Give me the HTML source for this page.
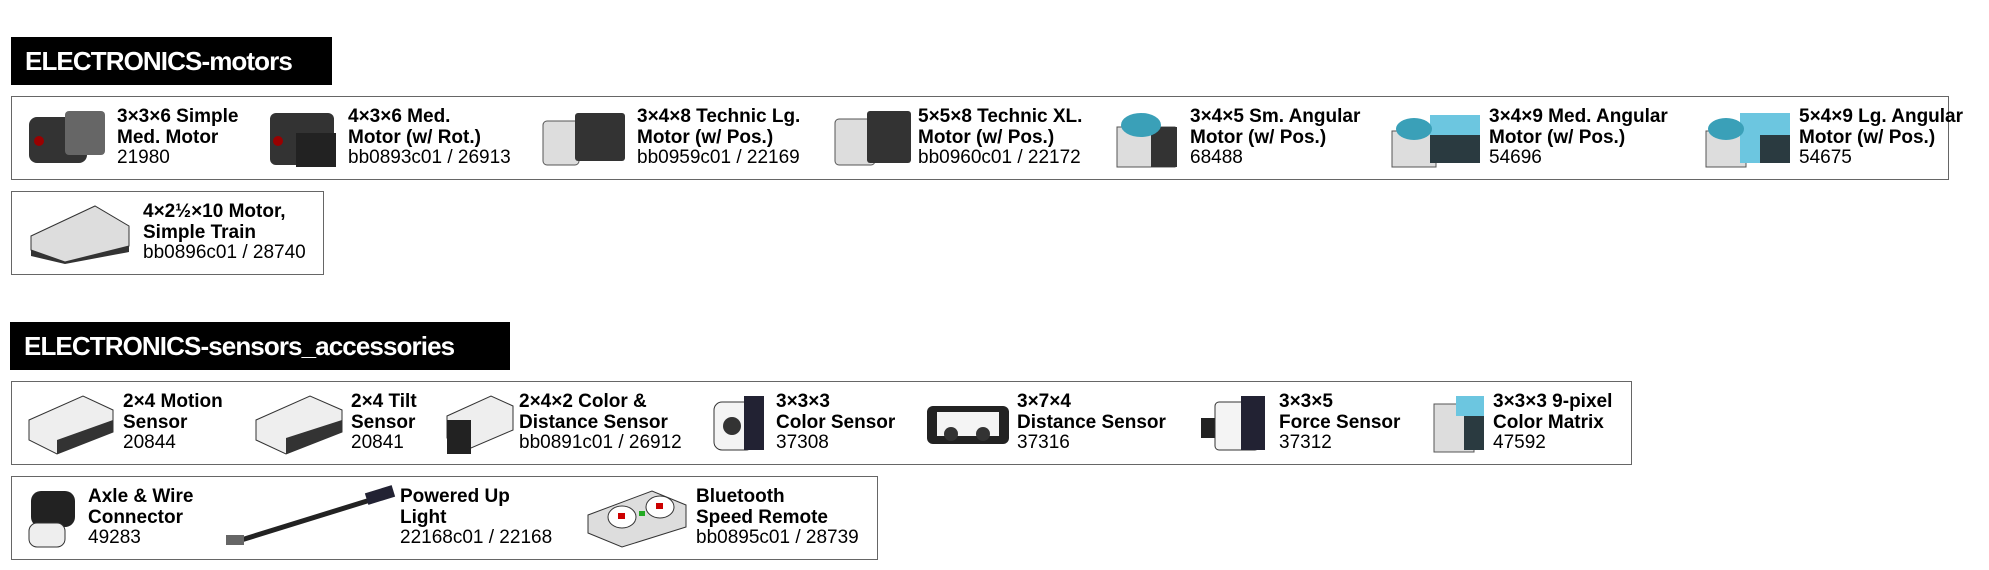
<!DOCTYPE html>
<html><head><meta charset="utf-8"><style>
body{margin:0;width:1989px;height:570px;background:#fff;position:relative;overflow:hidden;font-family:"Liberation Sans",Arial,sans-serif}
.h{position:absolute;background:#000;color:#fff;font-weight:bold;font-size:26px;line-height:48px;padding-left:14px;box-sizing:border-box;letter-spacing:-0.9px}
.box{position:absolute;border:1.5px solid #666;box-sizing:border-box;background:#fff}
.t{position:absolute;font-size:19px;line-height:20.5px;color:#000;white-space:nowrap}
.t b{display:block}
.i{position:absolute}
</style></head><body>
<div class="h" style="left:11px;top:37px;width:321px;height:48px">ELECTRONICS-motors</div>
<div class="box" style="left:11px;top:96px;width:1938px;height:84px"></div>
<div class="box" style="left:11px;top:191px;width:313px;height:84px"></div>

<div class="h" style="left:10px;top:322px;width:500px;height:48px">ELECTRONICS-sensors_accessories</div>
<div class="box" style="left:11px;top:381px;width:1621px;height:84px"></div>
<div class="box" style="left:11px;top:476px;width:867px;height:84px"></div>

<!-- motors row1 -->
<svg class="i" style="left:25px;top:105px" width="88" height="66"><rect x="4" y="12" width="58" height="46" rx="8" fill="#333"/><rect x="40" y="6" width="40" height="44" rx="4" fill="#666"/><circle cx="14" cy="36" r="5" fill="#900"/></svg>
<div class="t" style="left:117px;top:107px"><b>3×3×6 Simple</b><b>Med. Motor</b>21980</div>
<svg class="i" style="left:266px;top:105px" width="76" height="66"><rect x="4" y="8" width="64" height="52" rx="6" fill="#333"/><rect x="30" y="28" width="40" height="34" fill="#222"/><circle cx="12" cy="36" r="5" fill="#900"/></svg>
<div class="t" style="left:348px;top:107px"><b>4×3×6 Med.</b><b>Motor (w/ Rot.)</b>bb0893c01 / 26913</div>
<svg class="i" style="left:539px;top:105px" width="94" height="66"><rect x="4" y="16" width="36" height="44" rx="4" fill="#ddd" stroke="#555"/><rect x="36" y="8" width="50" height="48" rx="3" fill="#333"/></svg>
<div class="t" style="left:637px;top:107px"><b>3×4×8 Technic Lg.</b><b>Motor (w/ Pos.)</b>bb0959c01 / 22169</div>
<svg class="i" style="left:831px;top:105px" width="84" height="66"><rect x="4" y="14" width="40" height="46" rx="4" fill="#ddd" stroke="#555"/><rect x="36" y="6" width="44" height="52" rx="3" fill="#333"/></svg>
<div class="t" style="left:918px;top:107px"><b>5×5×8 Technic XL.</b><b>Motor (w/ Pos.)</b>bb0960c01 / 22172</div>
<svg class="i" style="left:1111px;top:105px" width="76" height="66"><rect x="6" y="22" width="58" height="40" fill="#ddd" stroke="#555"/><rect x="40" y="22" width="26" height="40" fill="#333"/><ellipse cx="30" cy="20" rx="20" ry="12" fill="#3aa0b8"/></svg>
<div class="t" style="left:1190px;top:107px"><b>3×4×5 Sm. Angular</b><b>Motor (w/ Pos.)</b>68488</div>
<svg class="i" style="left:1386px;top:105px" width="100" height="66"><rect x="6" y="26" width="44" height="36" fill="#ddd" stroke="#555"/><rect x="44" y="10" width="50" height="48" fill="#2a3a40"/><rect x="44" y="10" width="50" height="20" fill="#6cc6e0"/><ellipse cx="28" cy="24" rx="18" ry="11" fill="#3aa0b8"/></svg>
<div class="t" style="left:1489px;top:107px"><b>3×4×9 Med. Angular</b><b>Motor (w/ Pos.)</b>54696</div>
<svg class="i" style="left:1700px;top:105px" width="96" height="66"><rect x="6" y="26" width="40" height="36" fill="#ddd" stroke="#555"/><rect x="40" y="8" width="50" height="50" fill="#6cc6e0"/><rect x="60" y="30" width="30" height="28" fill="#2a3a40"/><ellipse cx="26" cy="24" rx="18" ry="11" fill="#3aa0b8"/></svg>
<div class="t" style="left:1799px;top:107px"><b>5×4×9 Lg. Angular</b><b>Motor (w/ Pos.)</b>54675</div>
<!-- motors row2 -->
<svg class="i" style="left:25px;top:200px" width="112" height="66"><path d="M6 36 L70 6 L104 26 L104 46 L40 62 L6 50Z" fill="#ddd" stroke="#333"/><path d="M6 50 L40 62 L104 46 L104 52 L40 64 L6 56Z" fill="#333"/></svg>
<div class="t" style="left:143px;top:202px"><b>4×2½×10 Motor,</b><b>Simple Train</b>bb0896c01 / 28740</div>

<!-- sensors row1 -->
<svg class="i" style="left:23px;top:390px" width="96" height="66"><path d="M6 30 L60 6 L90 20 L90 42 L34 64 L6 50Z" fill="#eee" stroke="#333"/><path d="M34 50 L90 30 L90 42 L34 64Z" fill="#333"/></svg>
<div class="t" style="left:123px;top:392px"><b>2×4 Motion</b><b>Sensor</b>20844</div>
<svg class="i" style="left:250px;top:390px" width="96" height="66"><path d="M6 30 L60 6 L92 20 L92 42 L36 64 L6 50Z" fill="#eee" stroke="#333"/><path d="M36 48 L92 30 L92 42 L36 64Z" fill="#333"/></svg>
<div class="t" style="left:351px;top:392px"><b>2×4 Tilt</b><b>Sensor</b>20841</div>
<svg class="i" style="left:441px;top:390px" width="76" height="66"><path d="M6 26 L50 6 L72 16 L72 40 L30 58 L6 48Z" fill="#eee" stroke="#333"/><rect x="6" y="30" width="24" height="34" fill="#222"/></svg>
<div class="t" style="left:519px;top:392px"><b>2×4×2 Color &amp;</b><b>Distance Sensor</b>bb0891c01 / 26912</div>
<svg class="i" style="left:710px;top:390px" width="60" height="66"><rect x="4" y="12" width="40" height="48" rx="8" fill="#f4f4f4" stroke="#333"/><rect x="34" y="6" width="20" height="54" fill="#223"/><circle cx="22" cy="36" r="9" fill="#333"/></svg>
<div class="t" style="left:776px;top:392px"><b>3×3×3</b><b>Color Sensor</b>37308</div>
<svg class="i" style="left:923px;top:390px" width="90" height="66"><rect x="4" y="16" width="82" height="38" rx="6" fill="#222"/><rect x="14" y="22" width="62" height="24" fill="#f4f4f4"/><circle cx="28" cy="44" r="7" fill="#333"/><circle cx="60" cy="44" r="7" fill="#333"/></svg>
<div class="t" style="left:1017px;top:392px"><b>3×7×4</b><b>Distance Sensor</b>37316</div>
<svg class="i" style="left:1195px;top:390px" width="80" height="66"><rect x="6" y="28" width="18" height="20" fill="#222"/><rect x="20" y="12" width="44" height="48" rx="4" fill="#f4f4f4" stroke="#333"/><rect x="46" y="6" width="24" height="54" fill="#223"/></svg>
<div class="t" style="left:1279px;top:392px"><b>3×3×5</b><b>Force Sensor</b>37312</div>
<svg class="i" style="left:1430px;top:390px" width="60" height="66"><rect x="4" y="14" width="40" height="48" fill="#ddd" stroke="#555"/><rect x="34" y="6" width="20" height="54" fill="#2a3a40"/><rect x="26" y="6" width="28" height="20" fill="#6cc6e0"/></svg>
<div class="t" style="left:1493px;top:392px"><b>3×3×3 9-pixel</b><b>Color Matrix</b>47592</div>
<!-- sensors row2 -->
<svg class="i" style="left:23px;top:485px" width="62" height="66"><rect x="8" y="6" width="44" height="36" rx="10" fill="#222"/><rect x="6" y="38" width="36" height="24" rx="8" fill="#eee" stroke="#333"/></svg>
<div class="t" style="left:88px;top:487px"><b>Axle &amp; Wire</b><b>Connector</b>49283</div>
<svg class="i" style="left:222px;top:485px" width="176" height="66"><line x1="16" y1="56" x2="158" y2="12" stroke="#222" stroke-width="5"/><rect x="144" y="4" width="28" height="12" fill="#223" transform="rotate(-17 158 10)"/><rect x="4" y="50" width="18" height="10" fill="#666"/></svg>
<div class="t" style="left:400px;top:487px"><b>Powered Up</b><b>Light</b>22168c01 / 22168</div>
<svg class="i" style="left:582px;top:485px" width="112" height="66"><path d="M6 30 L70 6 L104 20 L104 42 L40 62 L6 48Z" fill="#ddd" stroke="#333"/><ellipse cx="40" cy="32" rx="14" ry="11" fill="#fff" stroke="#333"/><ellipse cx="78" cy="22" rx="14" ry="11" fill="#fff" stroke="#333"/><rect x="36" y="28" width="7" height="6" fill="#c00"/><rect x="74" y="18" width="7" height="6" fill="#c00"/><rect x="57" y="26" width="6" height="5" fill="#2a2"/></svg>
<div class="t" style="left:696px;top:487px"><b>Bluetooth</b><b>Speed Remote</b>bb0895c01 / 28739</div>
</body></html>
